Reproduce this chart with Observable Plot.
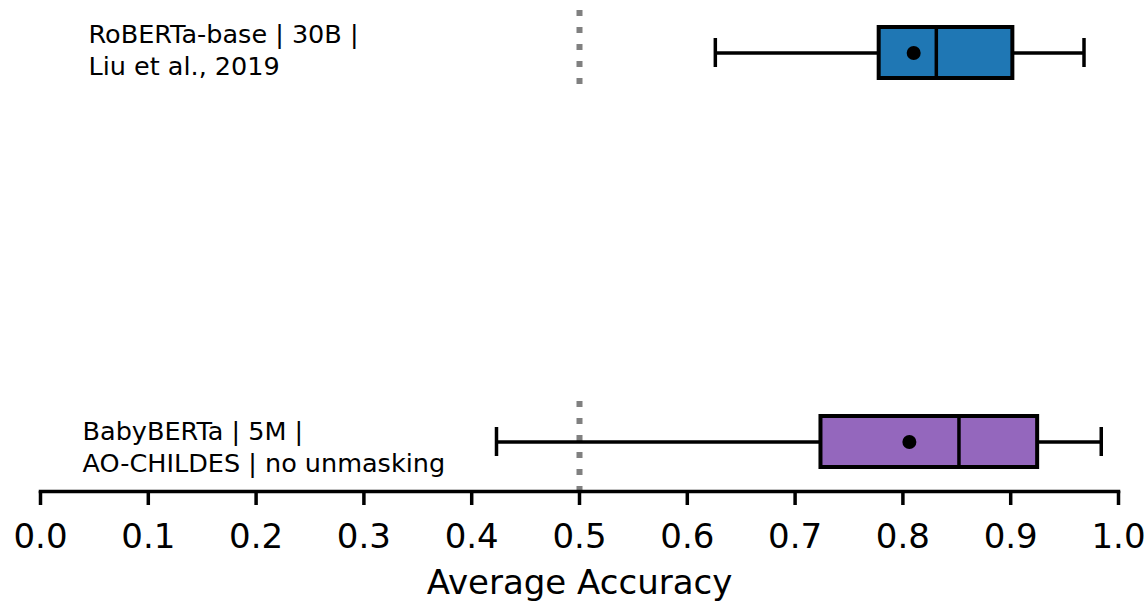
<!DOCTYPE html>
<html>
<head>
<meta charset="utf-8">
<script src="https://cdn.jsdelivr.net/npm/d3@7"></script>
<script src="https://cdn.jsdelivr.net/npm/@observablehq/plot@0.6"></script>
<style>
  html, body { margin: 0; padding: 0; background: #fff; }
  #chart svg { display: block; }
</style>
</head>
<body>
<div id="chart"></div>
<script>
// ---- Data ----
const models = ["RoBERTa-base", "BabyBERTa"];
const labels = [
  "RoBERTa-base | 30B |\nLiu et al., 2019",
  "BabyBERTa | 5M |\nAO-CHILDES | no unmasking"
];
const labelX = [0.0445, 0.039];
const whiskerLow = [0.626, 0.423];
const q1 = [0.778, 0.724];
const median = [0.831, 0.852];
const q3 = [0.902, 0.925];
const whiskerHigh = [0.968, 0.984];
const mean = [0.810, 0.806];
const colors = ["#1f77b4", "#9467bd"];
const chance = 0.5;
const tickValues = d3.range(0, 11).map(i => i / 10);
const xLabel = "Average Accuracy";

const rows = models.map((m, i) => ({
  model: m, label: labels[i], lx: labelX[i],
  lo: whiskerLow[i], q1: q1[i], med: median[i], q3: q3[i], hi: whiskerHigh[i],
  mean: mean[i], color: colors[i], chance
}));

const chart = Plot.plot({
  width: 1145,
  height: 603,
  marginLeft: 40,
  marginRight: 27,
  marginTop: 0,
  marginBottom: 112,
  style: {fontFamily: "DejaVu Sans", color: "black", background: "white"},
  x: {domain: [0, 1]},
  y: {domain: models, paddingInner: 0.869, paddingOuter: 0.0656, align: 0.53, axis: null},
  marks: [
    // chance line (dotted)
    Plot.tickX(rows.filter((d, i) => i === 0), {x: "chance", y: "model", stroke: "#808080", strokeWidth: 6, strokeDasharray: "6,11", insetTop: -17, insetBottom: -6}),
    Plot.tickX(rows.filter((d, i) => i === 1), {x: "chance", y: "model", stroke: "#808080", strokeWidth: 6, strokeDasharray: "6,11", insetTop: -15, insetBottom: -24}),
    // whiskers
    Plot.ruleY(rows, {y: "model", x1: "lo", x2: "q1", stroke: "black", strokeWidth: 3.5}),
    Plot.ruleY(rows, {y: "model", x1: "q3", x2: "hi", stroke: "black", strokeWidth: 3.5}),
    Plot.tickX(rows, {x: "lo", y: "model", stroke: "black", strokeWidth: 3.5, insetTop: 11, insetBottom: 11}),
    Plot.tickX(rows, {x: "hi", y: "model", stroke: "black", strokeWidth: 3.5, insetTop: 11, insetBottom: 11}),
    // boxes
    Plot.barX(rows, {x1: "q1", x2: "q3", y: "model", fill: "color", stroke: "black", strokeWidth: 4}),
    // median
    Plot.tickX(rows, {x: "med", y: "model", stroke: "black", strokeWidth: 3.5}),
    // mean
    Plot.dot(rows, {x: "mean", y: "model", r: 7, fill: "black", stroke: null}),
    // labels
    Plot.text(rows.filter((d, i) => i === 0), {x: "lx", y: "model", text: "label", textAnchor: "start", lineAnchor: "middle", lineHeight: 1.26, fontSize: 25.5, fill: "black", dy: -4.5}),
    Plot.text(rows.filter((d, i) => i === 1), {x: "lx", y: "model", text: "label", textAnchor: "start", lineAnchor: "middle", lineHeight: 1.24, fontSize: 25.5, fill: "black", dy: 3.6}),
    // axis
    Plot.frame({anchor: "bottom", stroke: "black", strokeWidth: 3.5}),
    Plot.axisX({
      ticks: tickValues,
      tickFormat: d3.format(".1f"),
      tickSize: 14,
      tickPadding: 18,
      fontSize: 34,
      stroke: "black",
      strokeWidth: 3.5,
      fill: "black",
      label: xLabel,
      labelAnchor: "center",
      labelArrow: "none",
      labelOffset: 102
    })
  ]
});

document.getElementById("chart").appendChild(chart);
</script>
</body>
</html>
